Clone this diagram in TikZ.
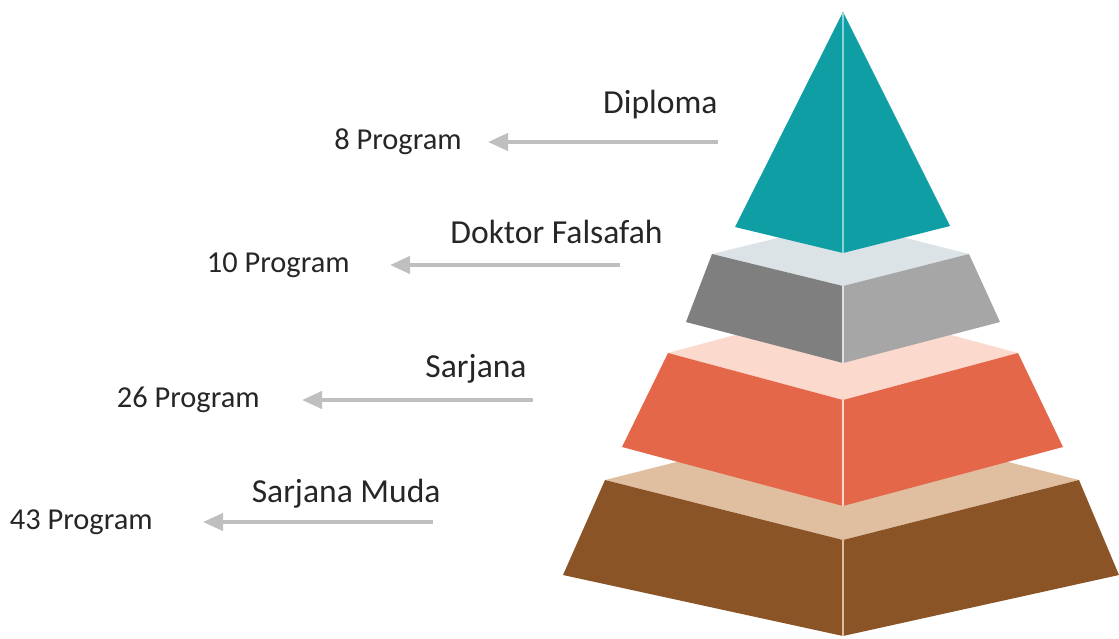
\documentclass[tikz,border=0pt]{standalone}
\usepackage{fontspec}
\setmainfont{Carlito}
\usepackage{xcolor}
\usetikzlibrary{arrows.meta,positioning}
\definecolor{tealface}{HTML}{0F9EA4}
\definecolor{tealseam}{HTML}{86D4D8}
\definecolor{graytop}{HTML}{DCE3E6}
\definecolor{grayleft}{HTML}{7F7F7F}
\definecolor{grayright}{HTML}{A6A6A6}
\definecolor{orangetop}{HTML}{FBD9CD}
\definecolor{orangeface}{HTML}{E5674A}
\definecolor{browntop}{HTML}{E0BFA0}
\definecolor{brownface}{HTML}{8B5426}
\definecolor{arrowgray}{HTML}{BFBFBF}

\begin{document}
\begin{tikzpicture}[
  x=0.5pt, y=-0.5pt,
  head/.style={font=\fontsize{16.8}{20}\selectfont, text=black!85, inner sep=0pt, anchor=base east},
  num/.style={font=\fontsize{15.2}{18}\selectfont, text=black!85, inner sep=0pt},
  arr/.style={-{Triangle[length=10pt, width=8.5pt]}, line width=2pt, arrowgray},
  seam/.style={line width=1pt}
]
\useasboundingbox (0,0) rectangle (1119,638);

% pyramid, bottom layer first
\fill[browntop] (605,480) -- (843,420) -- (1079,480) -- (843,540) -- cycle;
\fill[brownface] (605,480) -- (843,540) -- (843,636) -- (563,575) -- cycle;
\fill[brownface] (843,540) -- (1079,480) -- (1119,575) -- (843,636) -- cycle;
\draw[seam, browntop] (843,540) -- (843,636);

\fill[orangetop] (668,353) -- (843,306) -- (1018,353) -- (843,400) -- cycle;
\fill[orangeface] (668,353) -- (843,400) -- (843,506) -- (622,447) -- cycle;
\fill[orangeface] (843,400) -- (1018,353) -- (1063,447) -- (843,506) -- cycle;
\draw[seam, orangetop] (843,400) -- (843,506);

\fill[graytop] (712,254) -- (843,222) -- (969,254) -- (843,286) -- cycle;
\fill[grayleft] (712,254) -- (843,286) -- (843,363) -- (686,322) -- cycle;
\fill[grayright] (843,286) -- (969,254) -- (1000,322) -- (843,363) -- cycle;
\draw[seam, graytop] (843,286) -- (843,363);

\fill[tealface] (843,12) -- (950,226) -- (843,253) -- (735,227) -- cycle;
\draw[seam, tealseam] (843,12) -- (843,253);

% headings
\node[head] (diploma) at (718,113) {Diploma};
\node[head] (doktor) at (663,243) {Doktor Falsafah};
\node[head] (sarjana) at (527,377) {Sarjana};
\node[head] (muda) at (441,502) {Sarjana Muda};

% arrows and counts
\coordinate (tail1) at (718,142);
\coordinate (tip1) at (488,142);
\coordinate (tail2) at (620,265);
\coordinate (tip2) at (390,265);
\coordinate (tail3) at (533,400);
\coordinate (tip3) at (302,400);
\coordinate (tail4) at (433,522);
\coordinate (tip4) at (203,522);
\node[num, left=13pt of tip1] (n1) {8 Program};
\node[num, left=20pt of tip2] (n2) {10 Program};
\node[num, left=21pt of tip3] (n3) {26 Program};
\node[num, left=25pt of tip4] (n4) {43 Program};
\draw[arr] (tail1) -- (tip1);
\draw[arr] (tail2) -- (tip2);
\draw[arr] (tail3) -- (tip3);
\draw[arr] (tail4) -- (tip4);
\end{tikzpicture}
\end{document}
